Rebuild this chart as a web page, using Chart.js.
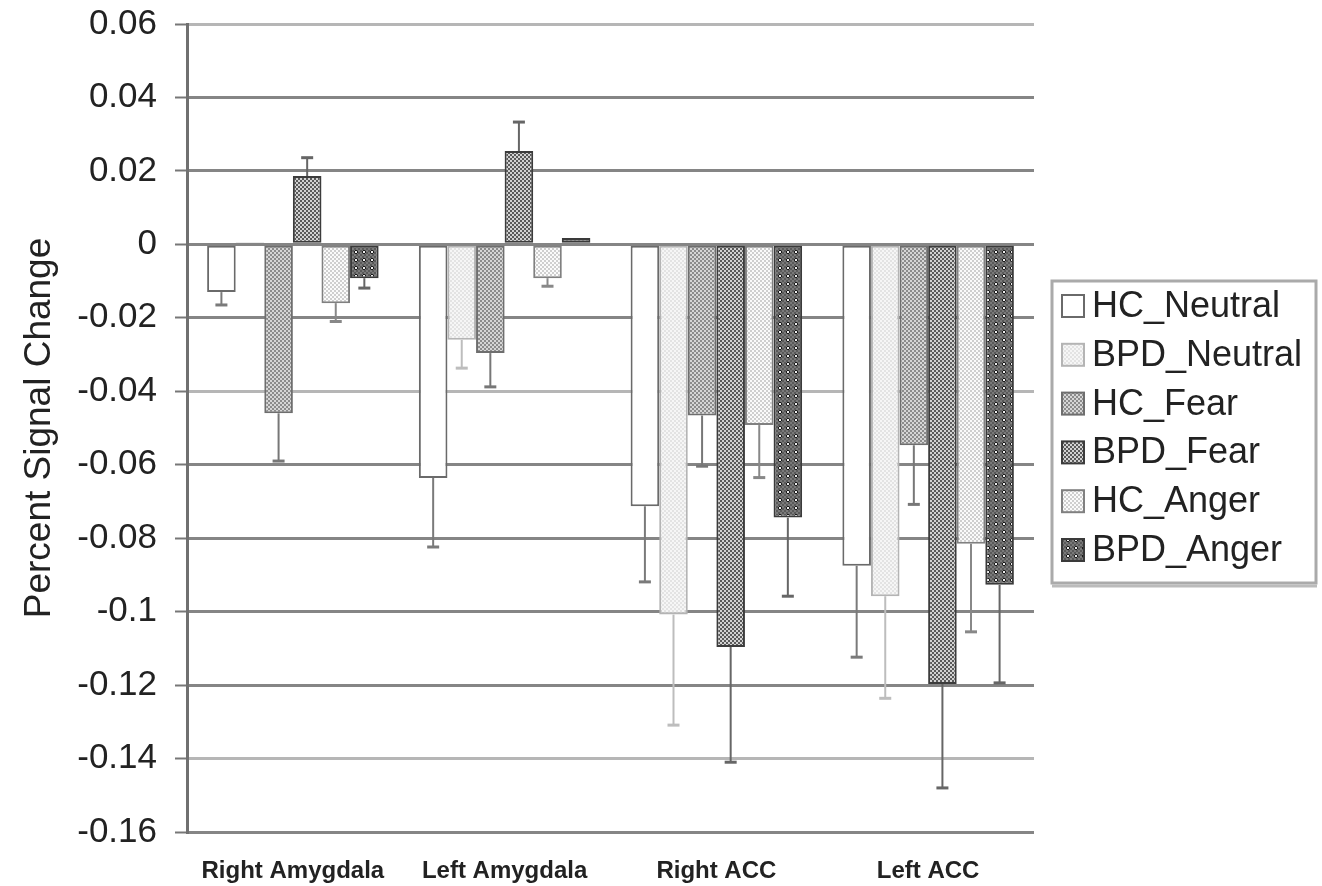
<!DOCTYPE html>
<html>
<head>
<meta charset="utf-8">
<script src="https://cdn.jsdelivr.net/npm/chart.js@4/dist/chart.umd.min.js"></script>
<style>
  html, body { margin: 0; padding: 0; background: #fff; }
  #wrap { width: 1322px; height: 886px; }
</style>
</head>
<body>
<div id="wrap"><canvas id="signalChart" width="1322" height="886"></canvas></div>
<script>
// Regions along the x axis
const regions = ['Right Amygdala', 'Left Amygdala', 'Right ACC', 'Left ACC'];

// Mean percent signal change, one value per region
const hcNeutral  = [-0.013,  -0.0636, -0.0713, -0.0875];
const bpdNeutral = [ 0.0006, -0.026,  -0.1008, -0.0958];
const hcFear     = [-0.046,  -0.0296, -0.0466, -0.0547];
const bpdFear    = [ 0.0186,  0.0254, -0.1096, -0.1197];
const hcAnger    = [-0.016,  -0.0092, -0.0492, -0.0815];
const bpdAnger   = [-0.0092,  0.0017, -0.0744, -0.0927];

// Error bar length (drawn away from zero)
const hcNeutralErr  = [0.0035, 0.0188, 0.0206, 0.0249];
const bpdNeutralErr = [0,      0.0077, 0.0301, 0.0278];
const hcFearErr     = [0.013,  0.0092, 0.0138, 0.0161];
const bpdFearErr    = [0.005,  0.0079, 0.0314, 0.0283];
const hcAngerErr    = [0.005,  0.0022, 0.0143, 0.024];
const bpdAngerErr   = [0.0027, 0,      0.0214, 0.0267];

// y axis ticks
const yTicks      = [0.06, 0.04, 0.02, 0, -0.02, -0.04, -0.06, -0.08, -0.1, -0.12, -0.14, -0.16];
const yTickLabels = ['0.06', '0.04', '0.02', '0', '-0.02', '-0.04', '-0.06', '-0.08', '-0.1', '-0.12', '-0.14', '-0.16'];

const canvas = document.getElementById('signalChart');
const ctx = canvas.getContext('2d');
const FONT = '"Liberation Sans", Arial, sans-serif';

// small tiled fills to imitate the print patterns
function tile(size, draw) {
    const c = document.createElement('canvas');
    c.width = size; c.height = size;
    draw(c.getContext('2d'));
    return ctx.createPattern(c, 'repeat');
}
function checker(a, b, cell) {
    return tile(cell * 2, g => {
        g.fillStyle = b; g.fillRect(0, 0, cell * 2, cell * 2);
        g.fillStyle = a; g.fillRect(0, 0, cell, cell); g.fillRect(cell, cell, cell, cell);
    });
}
const fillBpdNeutral = checker('#f6f6f6', '#e3e3e3', 2);
const fillHcFear = checker('#8c8c8c', '#d6d6d6', 2);
const fillBpdFear = checker('#5a5a5a', '#d2d2d2', 2);
const fillHcAnger = checker('#cfcfcf', '#fbfbfb', 2);
const fillBpdAnger = tile(8, g => {
    g.fillStyle = '#5a5a5a'; g.fillRect(0, 0, 8, 8);
    g.fillStyle = '#7a7a7a';
    for (let i = 0; i < 8; i += 2) for (let k = 0; k < 8; k += 2) if ((i + k) % 4 === 0) g.fillRect(i, k, 2, 2);
    g.fillStyle = '#1a1a1a'; g.fillRect(2, 3, 4, 2); g.fillRect(3, 2, 2, 4);
    g.fillStyle = '#eee'; g.fillRect(3, 3, 2, 2);
});

// error bars drawn from the bar ends through the y scale
const errorBars = {
    id: 'errorBars',
    afterDatasetsDraw(chart) {
        const c = chart.ctx, y = chart.scales.y;
        chart.data.datasets.forEach((ds, i) => {
            chart.getDatasetMeta(i).data.forEach((bar, j) => {
                const v = ds.data[j], e = ds.errors[j];
                if (!e) return;
                const end = y.getPixelForValue(v < 0 ? v - e : v + e);
                c.save();
                c.strokeStyle = ds.errColor;
                c.lineWidth = 2;
                c.beginPath(); c.moveTo(bar.x, bar.y); c.lineTo(bar.x, end); c.stroke();
                c.lineWidth = 3;
                c.beginPath(); c.moveTo(bar.x - 6, end); c.lineTo(bar.x + 6, end); c.stroke();
                c.restore();
            });
        });
    }
};

// boxed legend on the right, like the original
const boxLegend = {
    id: 'boxLegend',
    afterDraw(chart) {
        const c = chart.ctx;
        const left = 1052, top = 281, w = 264, h = 302, rowH = 48.8, first = 306;
        c.save();
        c.fillStyle = '#fff';
        c.fillRect(left, top, w, h);
        c.strokeStyle = '#aaa'; c.lineWidth = 3;
        c.strokeRect(left, top, w, h);
        c.strokeStyle = '#bbb'; c.lineWidth = 3;
        c.beginPath(); c.moveTo(left, top + h + 3); c.lineTo(left + w + 1, top + h + 3); c.stroke();
        c.font = '36px ' + FONT;
        c.textBaseline = 'middle';
        chart.data.datasets.forEach((ds, i) => {
            const cy = first + i * rowH;
            c.fillStyle = ds.backgroundColor;
            c.fillRect(1062, cy - 11, 22, 22);
            c.strokeStyle = ds.borderColor; c.lineWidth = 2;
            c.strokeRect(1062, cy - 11, 22, 22);
            c.fillStyle = '#222';
            c.fillText(ds.label, 1092, cy + 1);
        });
        c.restore();
    }
};

const lightLines = [0.06, -0.04, -0.14];

new Chart(ctx, {
    type: 'bar',
    data: {
        labels: regions,
        datasets: [
            { label: 'HC_Neutral',  data: hcNeutral,  errors: hcNeutralErr,  backgroundColor: '#ffffff',      borderColor: '#6a6a6a', errColor: '#7a7a7a' },
            { label: 'BPD_Neutral', data: bpdNeutral, errors: bpdNeutralErr, backgroundColor: fillBpdNeutral, borderColor: '#b4b4b4', errColor: '#bdbdbd' },
            { label: 'HC_Fear',     data: hcFear,     errors: hcFearErr,     backgroundColor: fillHcFear,     borderColor: '#6e6e6e', errColor: '#777' },
            { label: 'BPD_Fear',    data: bpdFear,    errors: bpdFearErr,    backgroundColor: fillBpdFear,    borderColor: '#3c3c3c', errColor: '#666' },
            { label: 'HC_Anger',    data: hcAnger,    errors: hcAngerErr,    backgroundColor: fillHcAnger,    borderColor: '#808080', errColor: '#888' },
            { label: 'BPD_Anger',   data: bpdAnger,   errors: bpdAngerErr,   backgroundColor: fillBpdAnger,   borderColor: '#3a3a3a', errColor: '#666' }
        ]
    },
    options: {
        responsive: false,
        animation: false,
        events: [],
        layout: { padding: { top: 24, right: 288, left: 0, bottom: 0 } },
        datasets: {
            bar: { categoryPercentage: 0.81, barPercentage: 1.0, borderWidth: 2, borderSkipped: false }
        },
        plugins: {
            legend: { display: false },
            tooltip: { enabled: false }
        },
        scales: {
            x: {
                grid: { display: false, drawTicks: false },
                border: { display: false },
                ticks: { color: '#222', padding: 25, font: { family: FONT, size: 24, weight: 'bold' } },
                afterFit: s => { s.height = 54; s.paddingLeft = 0; s.paddingRight = 0; }
            },
            y: {
                min: -0.16,
                max: 0.06,
                afterBuildTicks: s => { s.ticks = yTicks.map(v => ({ value: v })); },
                ticks: {
                    color: '#222',
                    padding: 18,
                    font: { family: FONT, size: 35 },
                    callback: (v, i) => yTickLabels[i]
                },
                grid: {
                    color: c => lightLines.some(v => Math.abs(v - c.tick.value) < 1e-9) ? '#b6b6b6' : '#858585',
                    lineWidth: 3,
                    tickLength: 12,
                    tickColor: '#777',
                    tickWidth: 2
                },
                border: { color: '#707070', width: 3 },
                title: {
                    display: true,
                    text: 'Percent Signal Change',
                    color: '#222',
                    font: { family: FONT, size: 37, lineHeight: 1 },
                    padding: { top: 21, bottom: 0 }
                },
                afterFit: s => { s.width = 187; s.paddingTop = 0; s.paddingBottom = 0; }
            }
        }
    },
    plugins: [errorBars, boxLegend]
});
</script>
</body>
</html>
